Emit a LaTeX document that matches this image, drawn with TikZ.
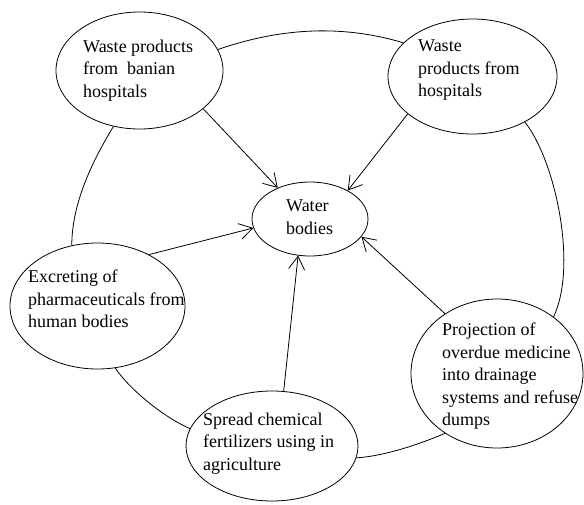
\documentclass[tikz,border=0pt]{standalone}
\usepackage{fontspec}
\setmainfont{Liberation Serif}
\usetikzlibrary{shapes.geometric,arrows.meta}
\begin{document}
\begin{tikzpicture}[x=1pt,y=-1pt,
  bub/.style={draw,ellipse,inner sep=0pt,line width=0.8pt},
  lbl/.style={anchor=north west,align=left,inner sep=0pt,font=\fontsize{18}{22.5}\selectfont},
  arr/.style={line width=0.8pt,-{Straight Barb[length=13pt,width=16pt]}},
  link/.style={line width=0.8pt}]
\useasboundingbox (0,0) rectangle (584,504);
% ellipses
\node[bub,minimum width=167pt,minimum height=117pt] (b) at (139.5,70.5) {};
\node[bub,minimum width=169pt,minimum height=115pt] (h) at (472.5,76.5) {};
\node[bub,minimum width=116pt,minimum height=74pt] (w) at (310,219) {};
\node[bub,minimum width=175pt,minimum height=126pt] (e) at (97.5,306) {};
\node[bub,minimum width=172pt,minimum height=110pt] (s) at (272,446) {};
\node[bub,minimum width=172pt,minimum height=149pt] (p) at (497,373.5) {};
% texts
\node[lbl] (tb) at (83,39.7) {Waste products\\from\ \ banian\\hospitals};
\node[lbl] (th) at (418,39.7) {Waste\\products from\\hospitals};
\node[lbl] (tw) at (286,199.7) {Water\\bodies};
\node[lbl] (te) at (28,269.7) {Excreting of\\pharmaceuticals from\\human bodies};
\node[lbl] (ts) at (203,412.7) {Spread chemical\\fertilizers using in\\agriculture};
\node[lbl] (tp) at (442,322.7) {Projection of\\overdue medicine\\into drainage\\systems and refuse\\dumps};
% arrows into water bodies
\draw[arr] (b.-31) -- (w.136);
\draw[arr] (h.210) -- (w.37);
\draw[arr] (e.45) -- (w.189);
\draw[arr] (s.78) -- (w.252);
\draw[arr] (p.131) -- (w.-19);
% outer ring links
\draw[link] (b.15) .. controls (283,27) and (344,25) .. (h.154);
\draw[link] (b.245) .. controls (90,165) and (72,205) .. (e.113);
\draw[link] (h.-41) .. controls (555,160) and (578,265) .. (p.45);
\draw[link] (e.-74) .. controls (130,390) and (165,418) .. (s.168);
\draw[link] (s.-8.5) .. controls (385,456) and (420,444) .. (p.229);
\end{tikzpicture}
\end{document}
